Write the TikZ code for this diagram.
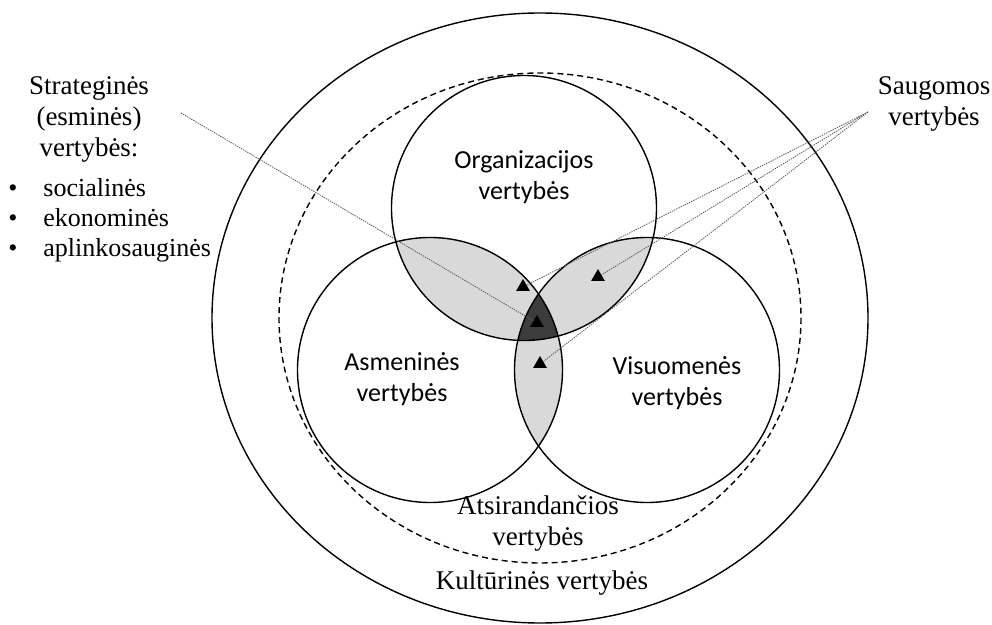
\documentclass[tikz,border=0pt]{standalone}
\usepackage{fontspec}
\setmainfont{Liberation Serif}
\newfontfamily\calibri{Carlito}
\usetikzlibrary{shapes.geometric}

\definecolor{lensgray}{HTML}{D9D9D9}
\definecolor{coregray}{HTML}{3C3C3C}

\tikzset{
  ring/.style={line width=0.7pt},
  serifl/.style={font=\fontsize{13.5}{15.5}\selectfont, align=center, inner sep=0pt},
  sansl/.style={font=\calibri\fontsize{13}{15.5}\selectfont, align=center, inner sep=0pt},
  pointer/.style={regular polygon, regular polygon sides=3, fill=black, inner sep=0pt, minimum size=8pt},
  leader/.style={line width=0.4pt, gray!70!black, dash pattern=on 0.7pt off 0.5pt}
}

\begin{document}
\begin{tikzpicture}[x=0.5pt, y=-0.5pt]
  \useasboundingbox (0,0) rectangle (992,625);

  % centres
  \coordinate (mid) at (540,318);
  \coordinate (orgc) at (524,208);
  \coordinate (asmc) at (430,370);
  \coordinate (visc) at (647,370);

  % light lenses
  \begin{scope}
    \clip (orgc) circle[radius=132.5];
    \fill[lensgray] (asmc) circle[radius=132.5];
    \fill[lensgray] (visc) circle[radius=132.5];
  \end{scope}
  \begin{scope}
    \clip (asmc) circle[radius=132.5];
    \fill[lensgray] (visc) circle[radius=132.5];
  \end{scope}
  % dark core
  \begin{scope}
    \clip (orgc) circle[radius=132.5];
    \clip (asmc) circle[radius=132.5];
    \fill[coregray] (visc) circle[radius=132.5];
  \end{scope}

  \draw[ring] (mid) circle[x radius=328, y radius=305];
  \draw[ring, dash pattern=on 3pt off 2pt] (mid) circle[x radius=261, y radius=245];
  \draw[ring] (orgc) circle[radius=132.5];
  \draw[ring] (asmc) circle[radius=132.5];
  \draw[ring] (visc) circle[radius=132.5];

  \node[sansl] (org) at (524,177) {Organizacijos\\vertybės};
  \node[sansl] (asm) at (402,379) {Asmeninės\\vertybės};
  \node[sansl] (vis) at (677,383) {Visuomenės\\vertybės};
  \node[serifl] (ats) at (538,524) {Atsirandančios\\vertybės};
  \node[serifl] (kult) at (542,583) {Kultūrinės vertybės};

  \node[serifl] (strat) at (89,119) {Strateginės\\(esminės)\\vertybės:};
  \node[serifl, font=\fontsize{13}{15}\selectfont, align=left, anchor=west] (kinds) at (8,220)
    {\makebox[17.5pt][l]{\textbullet}socialinės\\
     \makebox[17.5pt][l]{\textbullet}ekonominės\\
     \makebox[17.5pt][l]{\textbullet}aplinkosauginės};
  \node[serifl] (saug) at (934,104) {Saugomos\\vertybės};

  % markers
  \node[pointer] (m1) at (523,287) {};
  \node[pointer] (m2) at (598,277) {};
  \node[pointer] (m3) at (537,323) {};
  \node[pointer] (m4) at (540,364) {};

  \coordinate (stratend) at (181,113);
  \coordinate (saugend) at (868,112);
  \draw[leader] (stratend) -- (m3);
  \draw[leader] (saugend) -- (m1);
  \draw[leader] (saugend) -- (m2);
  \draw[leader] (saugend) -- (m4);
\end{tikzpicture}
\end{document}
